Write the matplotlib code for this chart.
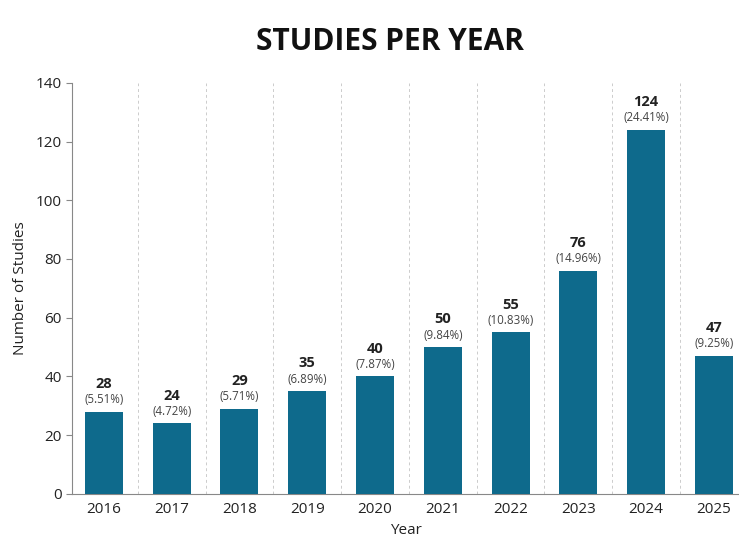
import matplotlib
matplotlib.use("Agg")
import matplotlib.pyplot as plt
import numpy as np

years = ["2016", "2017", "2018", "2019", "2020", "2021", "2022", "2023", "2024", "2025"]
counts = [28, 24, 29, 35, 40, 50, 55, 76, 124, 47]
pcts = ["5.51%", "4.72%", "5.71%", "6.89%", "7.87%", "9.84%", "10.83%", "14.96%", "24.41%", "9.25%"]

BAR = "#0e6a8c"
plt.rcParams["font.family"] = ["Open Sans", "DejaVu Sans"]

fig = plt.figure(figsize=(7.39, 5.41), dpi=100)
ax = fig.add_axes([0.0974, 0.087, 0.9026, 0.760])
x = np.arange(len(years))
ax.bar(x, counts, width=0.56, color=BAR, zorder=3)

for i, (c, p) in enumerate(zip(counts, pcts)):
    ax.annotate(str(c), (i, c), xytext=(0, 15), textcoords="offset points",
                ha="center", va="bottom", fontsize=10.5, fontweight="bold", color="#222222")
    ax.annotate(f"({p})", (i, c), xytext=(0, 4), textcoords="offset points",
                ha="center", va="bottom", fontsize=8.3, color="#444444")

for b in x[:-1] + 0.5:
    ax.axvline(b, color="#cccccc", lw=0.7, ls=(0, (3, 3)), zorder=1)

ax.set_xlim(-0.47, 9.37)
ax.set_ylim(0, 140)
ax.set_yticks(range(0, 141, 20))
ax.set_xticks(x)
ax.set_xticklabels(years)
ax.tick_params(axis="x", length=0, labelsize=11, pad=6, colors="#222222")
ax.tick_params(axis="y", length=4, labelsize=11, colors="#222222", color="#888888")
for s in ["top", "right"]:
    ax.spines[s].set_visible(False)
for s in ["left", "bottom"]:
    ax.spines[s].set_color("#888888")
    ax.spines[s].set_linewidth(0.8)

ax.set_xlabel("Year", fontsize=11, color="#222222", labelpad=4)
ax.set_ylabel("Number of Studies", fontsize=11, color="#222222", labelpad=5)
fig.text(0.528, 0.922, "STUDIES PER YEAR", ha="center", va="center",
         fontsize=21.5, fontweight="bold", color="#111111")

fig.savefig("out.png", dpi=100)
